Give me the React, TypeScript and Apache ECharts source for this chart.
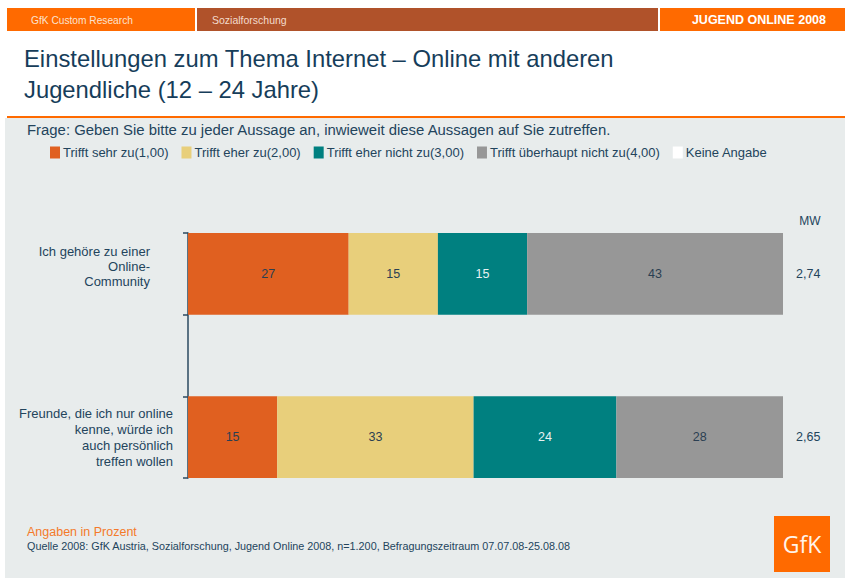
import React, { useEffect, useRef } from "react";
import * as echarts from "echarts";

const categories = [
  "Ich gehöre zu einer\nOnline-\nCommunity",
  "",
  "Freunde, die ich nur online\nkenne, würde ich\nauch persönlich\ntreffen wollen",
];
const seriesNames = [
  "Trifft sehr zu(1,00)",
  "Trifft eher zu(2,00)",
  "Trifft eher nicht zu(3,00)",
  "Trifft überhaupt nicht zu(4,00)",
  "Keine Angabe",
];
const triffSehr = [27, null, 15];
const triffEher = [15, null, 33];
const eherNicht = [15, null, 24];
const ueberhauptNicht = [43, null, 28];
const keineAngabe = [0, null, 0];
const mwValues = ["2,74", "", "2,65"];

const colors = ["#e06020", "#e8cf7b", "#008080", "#979797", "#ffffff"];
const labelColors = ["#2b3f52", "#2b3f52", "#e8f2f2", "#2b3f52"];
const FONT = "'Liberation Sans', Arial, sans-serif";
const TXT = "#23445c";

export default function App() {
  const ref = useRef<HTMLDivElement>(null);
  useEffect(() => {
    const chart = echarts.init(ref.current!, null, { renderer: "svg" });
    const values = [triffSehr, triffEher, eherNicht, ueberhauptNicht];
    const series: any[] = values.map((d, i) => ({
      name: seriesNames[i],
      type: "bar",
      stack: "total",
      barCategoryGap: "0%",
      data: d,
      itemStyle: { color: colors[i] },
      label: {
        show: true,
        position: "inside",
        color: labelColors[i],
        fontSize: 12.5,
        fontFamily: FONT,
      },
    }));
    series.push({
      name: seriesNames[4],
      type: "bar",
      stack: "total",
      barCategoryGap: "0%",
      data: keineAngabe,
      itemStyle: { color: colors[4] },
      label: {
        show: true,
        position: "right",
        distance: 13,
        color: TXT,
        fontSize: 12.5,
        fontFamily: FONT,
        formatter: (p: any) => mwValues[p.dataIndex],
      },
    });

    const lines0 = categories[0].split("\n");

    chart.setOption({
      animation: false,
      textStyle: { fontFamily: FONT },
      legend: {
        data: seriesNames,
        left: 45,
        top: 141,
        icon: "rect",
        itemWidth: 10,
        itemHeight: 12,
        itemGap: 13,
        textStyle: { color: TXT, fontSize: 13, fontFamily: FONT, padding: [0, 0, 0, -2] },
        selectedMode: false,
      },
      grid: { left: 188, right: 62, top: 233, height: 245, containLabel: false },
      xAxis: { type: "value", min: 0, max: 100, show: false },
      yAxis: {
        type: "category",
        data: categories,
        inverse: true,
        axisLine: { show: true, lineStyle: { color: "#2b4a60", width: 1.5 } },
        axisTick: { show: true, length: 5, lineStyle: { color: "#2b4a60", width: 1.5 } },
        splitLine: { show: false },
        axisLabel: {
          margin: 15,
          color: TXT,
          fontSize: 13,
          lineHeight: 16,
          fontFamily: FONT,
          formatter: (v: string, idx: number) =>
            idx === 0
              ? lines0.map((l) => `{a|${l}}`).join("\n") + "\n{c| }"
              : v,
          rich: {
            a: {
              padding: [0, 23, 0, 0],
              color: TXT,
              fontSize: 13,
              lineHeight: 15,
              fontFamily: FONT,
            },
            c: {
              fontSize: 2,
              lineHeight: 14,
              color: "rgba(0,0,0,0)",
            },
          },
        },
      },
      series,
      graphic: [
        { type: "rect", z: -10, shape: { x: 5, y: 118, width: 840, height: 460 }, style: { fill: "#e8ecec" } },
        { type: "rect", shape: { x: 7, y: 8, width: 188, height: 23 }, style: { fill: "#ff6a00" } },
        { type: "rect", shape: { x: 197, y: 8, width: 461, height: 23 }, style: { fill: "#b0522a" } },
        { type: "rect", shape: { x: 660, y: 8, width: 185, height: 23 }, style: { fill: "#ff6a00" } },
        { type: "text", x: 31, y: 20, style: { text: "GfK Custom Research", fill: "#fbe2cf", fontSize: 10.2, fontFamily: FONT, verticalAlign: "middle" } },
        { type: "text", x: 212, y: 20, style: { text: "Sozialforschung", fill: "#f3dccd", fontSize: 10.5, fontFamily: FONT, verticalAlign: "middle" } },
        { type: "text", x: 826, y: 20, style: { text: "JUGEND ONLINE 2008", fill: "#ffffff", fontSize: 12.5, fontWeight: "bold", fontFamily: FONT, align: "right", verticalAlign: "middle" } },
        { type: "text", x: 24, y: 58, style: { text: "Einstellungen zum Thema Internet – Online mit anderen", fill: "#163d5a", fontSize: 23.8, fontFamily: FONT, verticalAlign: "middle" } },
        { type: "text", x: 24, y: 89, style: { text: "Jugendliche (12 – 24 Jahre)", fill: "#163d5a", fontSize: 23.8, fontFamily: FONT, verticalAlign: "middle" } },
        { type: "rect", shape: { x: 7, y: 116, width: 838, height: 2 }, style: { fill: "#ff6a00" } },
        { type: "text", x: 27, y: 130, style: { text: "Frage: Geben Sie bitte zu jeder Aussage an, inwieweit diese Aussagen auf Sie zutreffen.", fill: TXT, fontSize: 14.9, fontFamily: FONT, verticalAlign: "middle" } },
        { type: "text", x: 810, y: 221, style: { text: "MW", fill: TXT, fontSize: 12, fontFamily: FONT, align: "center", verticalAlign: "middle" } },
        { type: "text", x: 27, y: 532, style: { text: "Angaben in Prozent", fill: "#f47a2a", fontSize: 12.5, fontFamily: FONT, verticalAlign: "middle" } },
        { type: "text", x: 27, y: 546, style: { text: "Quelle 2008: GfK Austria, Sozialforschung, Jugend Online 2008, n=1.200, Befragungszeitraum 07.07.08-25.08.08", fill: TXT, fontSize: 10.8, fontFamily: FONT, verticalAlign: "middle" } },
        { type: "rect", shape: { x: 774, y: 516, width: 56, height: 56 }, style: { fill: "#ff6a00" } },
        { type: "text", x: 802, y: 544, style: { text: "GfK", fill: "#fff4ea", fontSize: 23, fontFamily: "'Open Sans', sans-serif", align: "center", verticalAlign: "middle" } },
      ],
    });
    return () => chart.dispose();
  }, []);
  return (
    <div
      ref={ref}
      style={{ position: "absolute", left: 0, top: 0, width: 845, height: 578, background: "#ffffff" }}
    />
  );
}
